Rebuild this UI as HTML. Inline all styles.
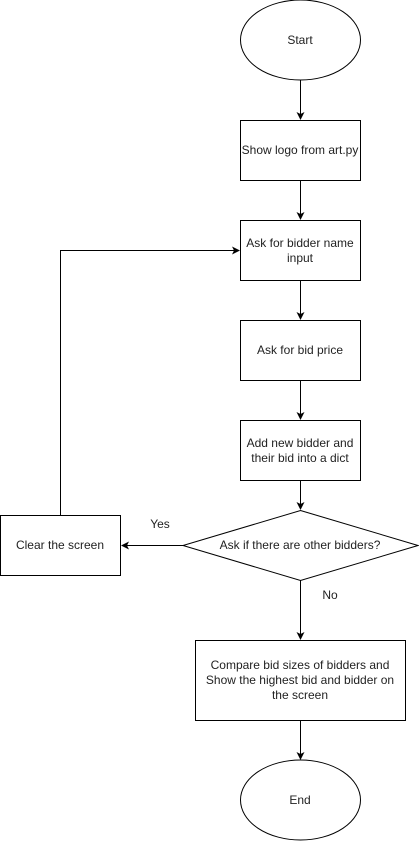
<!DOCTYPE html>
<html><head><style>body{margin:0;background:#fff}svg{display:block}text{font-family:"Liberation Sans",Arial,sans-serif;font-size:12px;fill:#222;text-anchor:middle}</style></head>
<body>
<svg width="419" height="841" viewBox="0 0 419 841" xmlns="http://www.w3.org/2000/svg">
<defs><marker id="a" markerWidth="8" markerHeight="8" refX="7" refY="4" orient="auto" markerUnits="userSpaceOnUse"><path d="M0,0 L8,4 L0,8 L2,4 z" fill="#000"/></marker></defs>
<g fill="#fff" stroke="#000" stroke-width="1">
<ellipse cx="300.5" cy="40" rx="60" ry="40"/>
<rect x="240.5" y="120.5" width="120" height="60"/>
<rect x="240.5" y="220.5" width="120" height="60"/>
<rect x="240.5" y="320.5" width="120" height="60"/>
<rect x="240.5" y="420.5" width="120" height="60"/>
<path d="M300.5,510.5 L418,545.5 L300.5,580.5 L183,545.5 z"/>
<rect x="0.5" y="515.5" width="120" height="60"/>
<rect x="195.5" y="640.5" width="210" height="80"/>
<ellipse cx="300.5" cy="800" rx="60" ry="40"/>
</g>
<g stroke="#000" fill="none" marker-end="url(#a)">
<path d="M300.5,80 V119"/>
<path d="M300.5,180.5 V219"/>
<path d="M300.5,280.5 V319"/>
<path d="M300.5,380.5 V419"/>
<path d="M300.5,480.5 V509"/>
<path d="M183,545.5 H122"/>
<path d="M300.5,580.5 V639"/>
<path d="M300.5,720.5 V759"/>
<path d="M60.5,515.5 V250.5 H239"/>
</g>
<text x="300" y="44">Start</text>
<text x="300" y="154">Show logo from art.py</text>
<text x="300" y="247">Ask for bidder name</text>
<text x="300" y="262">input</text>
<text x="300" y="354">Ask for bid price</text>
<text x="300" y="447">Add new bidder and</text>
<text x="300" y="462">their bid into a dict</text>
<text x="300" y="549">Ask if there are other bidders?</text>
<text x="60" y="549">Clear the screen</text>
<text x="160" y="528">Yes</text>
<text x="330" y="599">No</text>
<text x="300" y="669">Compare bid sizes of bidders and</text>
<text x="300" y="684">Show the highest bid and bidder on</text>
<text x="300" y="699">the screen</text>
<text x="300" y="804">End</text>
</svg>
</body></html>
